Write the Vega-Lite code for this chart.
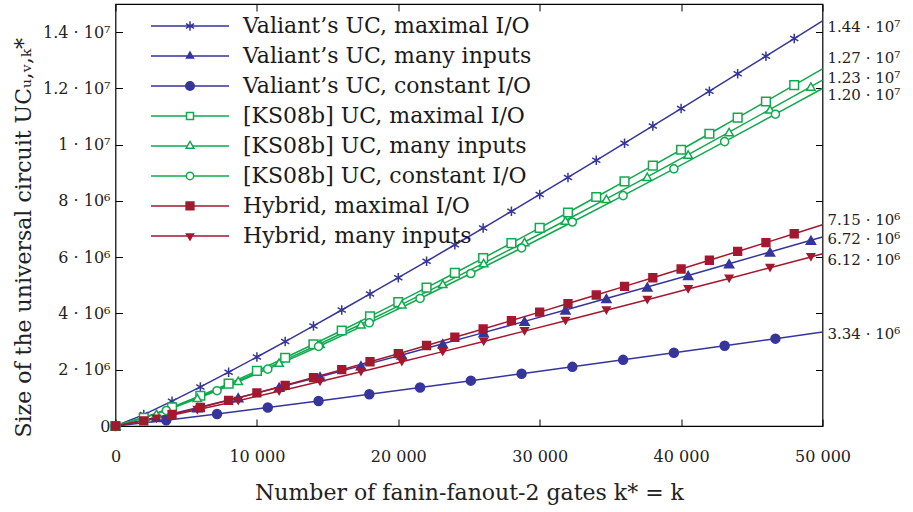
{
  "$schema": "https://vega.github.io/schema/vega-lite/v6.json",
  "width": 707,
  "height": 422,
  "autosize": {"type": "none"},
  "padding": {"left": 115.5, "top": 4, "right": 90.5, "bottom": 86},
  "config": {
    "view": {"stroke": "black", "strokeWidth": 1.2},
    "font": "DejaVu Serif",
    "axis": {"grid": false, "domain": false, "tickColor": "black", "tickWidth": 1, "labelFont": "DejaVu Serif", "labelFontSize": 16, "labelColor": "#222", "titleFont": "DejaVu Serif", "titleFontSize": 22, "titleFontWeight": "normal", "titleColor": "#222"},
    "legend": {"orient": "none", "legendX": 34.5, "legendY": 8.4, "padding": 0, "clipHeight": 27.1, "rowPadding": 2, "labelFont": "DejaVu Serif", "labelFontSize": 22, "labelColor": "#1a1a1a", "labelOffset": 13, "labelLimit": 500, "symbolStrokeWidth": 1.5, "symbolSize": 6084, "symbolOpacity": 1}
  },
  "datasets": {
    "pts": [
      {"s": "Valiant’s UC, maximal I/O", "k": 0, "v": 0},
      {"s": "Valiant’s UC, maximal I/O", "k": 2000, "v": 404600},
      {"s": "Valiant’s UC, maximal I/O", "k": 4000, "v": 883100},
      {"s": "Valiant’s UC, maximal I/O", "k": 6000, "v": 1389400},
      {"s": "Valiant’s UC, maximal I/O", "k": 8000, "v": 1913800},
      {"s": "Valiant’s UC, maximal I/O", "k": 10000, "v": 2451600},
      {"s": "Valiant’s UC, maximal I/O", "k": 12000, "v": 3000100},
      {"s": "Valiant’s UC, maximal I/O", "k": 14000, "v": 3557600},
      {"s": "Valiant’s UC, maximal I/O", "k": 16000, "v": 4122700},
      {"s": "Valiant’s UC, maximal I/O", "k": 18000, "v": 4694500},
      {"s": "Valiant’s UC, maximal I/O", "k": 20000, "v": 5272200},
      {"s": "Valiant’s UC, maximal I/O", "k": 22000, "v": 5855200},
      {"s": "Valiant’s UC, maximal I/O", "k": 24000, "v": 6443000},
      {"s": "Valiant’s UC, maximal I/O", "k": 26000, "v": 7035400},
      {"s": "Valiant’s UC, maximal I/O", "k": 28000, "v": 7631800},
      {"s": "Valiant’s UC, maximal I/O", "k": 30000, "v": 8232000},
      {"s": "Valiant’s UC, maximal I/O", "k": 32000, "v": 8835800},
      {"s": "Valiant’s UC, maximal I/O", "k": 34000, "v": 9442900},
      {"s": "Valiant’s UC, maximal I/O", "k": 36000, "v": 10053100},
      {"s": "Valiant’s UC, maximal I/O", "k": 38000, "v": 10666300},
      {"s": "Valiant’s UC, maximal I/O", "k": 40000, "v": 11282300},
      {"s": "Valiant’s UC, maximal I/O", "k": 42000, "v": 11902000},
      {"s": "Valiant’s UC, maximal I/O", "k": 44000, "v": 12522200},
      {"s": "Valiant’s UC, maximal I/O", "k": 46000, "v": 13145800},
      {"s": "Valiant’s UC, maximal I/O", "k": 48000, "v": 13771700},
      {"s": "Valiant’s UC, maximal I/O", "k": 50000, "v": 14400000},
      {"s": "Valiant’s UC, many inputs", "k": 0, "v": 0},
      {"s": "Valiant’s UC, many inputs", "k": 2893, "v": 301300},
      {"s": "Valiant’s UC, many inputs", "k": 5786, "v": 645100},
      {"s": "Valiant’s UC, many inputs", "k": 8679, "v": 1005000},
      {"s": "Valiant’s UC, many inputs", "k": 11572, "v": 1375300},
      {"s": "Valiant’s UC, many inputs", "k": 14465, "v": 1753500},
      {"s": "Valiant’s UC, many inputs", "k": 17358, "v": 2137600},
      {"s": "Valiant’s UC, many inputs", "k": 20251, "v": 2527100},
      {"s": "Valiant’s UC, many inputs", "k": 23144, "v": 2921000},
      {"s": "Valiant’s UC, many inputs", "k": 26037, "v": 3318700},
      {"s": "Valiant’s UC, many inputs", "k": 28930, "v": 3719800},
      {"s": "Valiant’s UC, many inputs", "k": 31823, "v": 4123900},
      {"s": "Valiant’s UC, many inputs", "k": 34716, "v": 4530800},
      {"s": "Valiant’s UC, many inputs", "k": 37609, "v": 4940300},
      {"s": "Valiant’s UC, many inputs", "k": 40502, "v": 5352300},
      {"s": "Valiant’s UC, many inputs", "k": 43395, "v": 5766300},
      {"s": "Valiant’s UC, many inputs", "k": 46288, "v": 6182700},
      {"s": "Valiant’s UC, many inputs", "k": 49181, "v": 6600600},
      {"s": "Valiant’s UC, many inputs", "k": 50000, "v": 6719500},
      {"s": "Valiant’s UC, constant I/O", "k": 0, "v": 0},
      {"s": "Valiant’s UC, constant I/O", "k": 3590, "v": 203300},
      {"s": "Valiant’s UC, constant I/O", "k": 7180, "v": 425800},
      {"s": "Valiant’s UC, constant I/O", "k": 10770, "v": 655500},
      {"s": "Valiant’s UC, constant I/O", "k": 14360, "v": 889900},
      {"s": "Valiant’s UC, constant I/O", "k": 17950, "v": 1127800},
      {"s": "Valiant’s UC, constant I/O", "k": 21540, "v": 1368400},
      {"s": "Valiant’s UC, constant I/O", "k": 25130, "v": 1611600},
      {"s": "Valiant’s UC, constant I/O", "k": 28720, "v": 1856500},
      {"s": "Valiant’s UC, constant I/O", "k": 32310, "v": 2103400},
      {"s": "Valiant’s UC, constant I/O", "k": 35900, "v": 2351500},
      {"s": "Valiant’s UC, constant I/O", "k": 39490, "v": 2601200},
      {"s": "Valiant’s UC, constant I/O", "k": 43080, "v": 2851900},
      {"s": "Valiant’s UC, constant I/O", "k": 46670, "v": 3104000},
      {"s": "Valiant’s UC, constant I/O", "k": 50000, "v": 3339000},
      {"s": "[KS08b] UC, maximal I/O", "k": 0, "v": 0},
      {"s": "[KS08b] UC, maximal I/O", "k": 2000, "v": 290200},
      {"s": "[KS08b] UC, maximal I/O", "k": 4000, "v": 664600},
      {"s": "[KS08b] UC, maximal I/O", "k": 6000, "v": 1074500},
      {"s": "[KS08b] UC, maximal I/O", "k": 8000, "v": 1508200},
      {"s": "[KS08b] UC, maximal I/O", "k": 10000, "v": 1960000},
      {"s": "[KS08b] UC, maximal I/O", "k": 12000, "v": 2426500},
      {"s": "[KS08b] UC, maximal I/O", "k": 14000, "v": 2905400},
      {"s": "[KS08b] UC, maximal I/O", "k": 16000, "v": 3395000},
      {"s": "[KS08b] UC, maximal I/O", "k": 18000, "v": 3894100},
      {"s": "[KS08b] UC, maximal I/O", "k": 20000, "v": 4401800},
      {"s": "[KS08b] UC, maximal I/O", "k": 22000, "v": 4917200},
      {"s": "[KS08b] UC, maximal I/O", "k": 24000, "v": 5439600},
      {"s": "[KS08b] UC, maximal I/O", "k": 26000, "v": 5968300},
      {"s": "[KS08b] UC, maximal I/O", "k": 28000, "v": 6503300},
      {"s": "[KS08b] UC, maximal I/O", "k": 30000, "v": 7043700},
      {"s": "[KS08b] UC, maximal I/O", "k": 32000, "v": 7589400},
      {"s": "[KS08b] UC, maximal I/O", "k": 34000, "v": 8140300},
      {"s": "[KS08b] UC, maximal I/O", "k": 36000, "v": 8695400},
      {"s": "[KS08b] UC, maximal I/O", "k": 38000, "v": 9255700},
      {"s": "[KS08b] UC, maximal I/O", "k": 40000, "v": 9819600},
      {"s": "[KS08b] UC, maximal I/O", "k": 42000, "v": 10387900},
      {"s": "[KS08b] UC, maximal I/O", "k": 44000, "v": 10960000},
      {"s": "[KS08b] UC, maximal I/O", "k": 46000, "v": 11535400},
      {"s": "[KS08b] UC, maximal I/O", "k": 48000, "v": 12114700},
      {"s": "[KS08b] UC, maximal I/O", "k": 50000, "v": 12697500},
      {"s": "[KS08b] UC, many inputs", "k": 0, "v": 0},
      {"s": "[KS08b] UC, many inputs", "k": 2893, "v": 437500},
      {"s": "[KS08b] UC, many inputs", "k": 5786, "v": 996900},
      {"s": "[KS08b] UC, many inputs", "k": 8679, "v": 1607400},
      {"s": "[KS08b] UC, many inputs", "k": 11572, "v": 2252300},
      {"s": "[KS08b] UC, many inputs", "k": 14465, "v": 2923300},
      {"s": "[KS08b] UC, many inputs", "k": 17358, "v": 3615400},
      {"s": "[KS08b] UC, many inputs", "k": 20251, "v": 4325500},
      {"s": "[KS08b] UC, many inputs", "k": 23144, "v": 5050800},
      {"s": "[KS08b] UC, many inputs", "k": 26037, "v": 5789800},
      {"s": "[KS08b] UC, many inputs", "k": 28930, "v": 6540300},
      {"s": "[KS08b] UC, many inputs", "k": 31823, "v": 7303600},
      {"s": "[KS08b] UC, many inputs", "k": 34716, "v": 8076100},
      {"s": "[KS08b] UC, many inputs", "k": 37609, "v": 8857700},
      {"s": "[KS08b] UC, many inputs", "k": 40502, "v": 9648100},
      {"s": "[KS08b] UC, many inputs", "k": 43395, "v": 10446500},
      {"s": "[KS08b] UC, many inputs", "k": 46288, "v": 11252800},
      {"s": "[KS08b] UC, many inputs", "k": 49181, "v": 12066100},
      {"s": "[KS08b] UC, many inputs", "k": 50000, "v": 12297500},
      {"s": "[KS08b] UC, constant I/O", "k": 0, "v": 0},
      {"s": "[KS08b] UC, constant I/O", "k": 3590, "v": 552200},
      {"s": "[KS08b] UC, constant I/O", "k": 7180, "v": 1254700},
      {"s": "[KS08b] UC, constant I/O", "k": 10770, "v": 2020100},
      {"s": "[KS08b] UC, constant I/O", "k": 14360, "v": 2827800},
      {"s": "[KS08b] UC, constant I/O", "k": 17950, "v": 3667700},
      {"s": "[KS08b] UC, constant I/O", "k": 21540, "v": 4533400},
      {"s": "[KS08b] UC, constant I/O", "k": 25130, "v": 5421200},
      {"s": "[KS08b] UC, constant I/O", "k": 28720, "v": 6328100},
      {"s": "[KS08b] UC, constant I/O", "k": 32310, "v": 7251600},
      {"s": "[KS08b] UC, constant I/O", "k": 35900, "v": 8189900},
      {"s": "[KS08b] UC, constant I/O", "k": 39490, "v": 9142100},
      {"s": "[KS08b] UC, constant I/O", "k": 43080, "v": 10106800},
      {"s": "[KS08b] UC, constant I/O", "k": 46670, "v": 11082600},
      {"s": "[KS08b] UC, constant I/O", "k": 50000, "v": 11997600},
      {"s": "Hybrid, maximal I/O", "k": 0, "v": 0},
      {"s": "Hybrid, maximal I/O", "k": 2000, "v": 184400},
      {"s": "Hybrid, maximal I/O", "k": 4000, "v": 412500},
      {"s": "Hybrid, maximal I/O", "k": 6000, "v": 657200},
      {"s": "Hybrid, maximal I/O", "k": 8000, "v": 912600},
      {"s": "Hybrid, maximal I/O", "k": 10000, "v": 1176000},
      {"s": "Hybrid, maximal I/O", "k": 12000, "v": 1445800},
      {"s": "Hybrid, maximal I/O", "k": 14000, "v": 1720900},
      {"s": "Hybrid, maximal I/O", "k": 16000, "v": 2000500},
      {"s": "Hybrid, maximal I/O", "k": 18000, "v": 2284000},
      {"s": "Hybrid, maximal I/O", "k": 20000, "v": 2571000},
      {"s": "Hybrid, maximal I/O", "k": 22000, "v": 2861300},
      {"s": "Hybrid, maximal I/O", "k": 24000, "v": 3154300},
      {"s": "Hybrid, maximal I/O", "k": 26000, "v": 3449900},
      {"s": "Hybrid, maximal I/O", "k": 28000, "v": 3748400},
      {"s": "Hybrid, maximal I/O", "k": 30000, "v": 4048800},
      {"s": "Hybrid, maximal I/O", "k": 32000, "v": 4351400},
      {"s": "Hybrid, maximal I/O", "k": 34000, "v": 4655600},
      {"s": "Hybrid, maximal I/O", "k": 36000, "v": 4962200},
      {"s": "Hybrid, maximal I/O", "k": 38000, "v": 5270200},
      {"s": "Hybrid, maximal I/O", "k": 40000, "v": 5580000},
      {"s": "Hybrid, maximal I/O", "k": 42000, "v": 5891300},
      {"s": "Hybrid, maximal I/O", "k": 44000, "v": 6204400},
      {"s": "Hybrid, maximal I/O", "k": 46000, "v": 6518700},
      {"s": "Hybrid, maximal I/O", "k": 48000, "v": 6834200},
      {"s": "Hybrid, maximal I/O", "k": 50000, "v": 7151500},
      {"s": "Hybrid, many inputs", "k": 0, "v": 0},
      {"s": "Hybrid, many inputs", "k": 2893, "v": 266500},
      {"s": "Hybrid, many inputs", "k": 5786, "v": 575700},
      {"s": "Hybrid, many inputs", "k": 8679, "v": 900800},
      {"s": "Hybrid, many inputs", "k": 11572, "v": 1236500},
      {"s": "Hybrid, many inputs", "k": 14465, "v": 1579900},
      {"s": "Hybrid, many inputs", "k": 17358, "v": 1929300},
      {"s": "Hybrid, many inputs", "k": 20251, "v": 2284100},
      {"s": "Hybrid, many inputs", "k": 23144, "v": 2643300},
      {"s": "Hybrid, many inputs", "k": 26037, "v": 3006200},
      {"s": "Hybrid, many inputs", "k": 28930, "v": 3372700},
      {"s": "Hybrid, many inputs", "k": 31823, "v": 3742100},
      {"s": "Hybrid, many inputs", "k": 34716, "v": 4114200},
      {"s": "Hybrid, many inputs", "k": 37609, "v": 4489000},
      {"s": "Hybrid, many inputs", "k": 40502, "v": 4866300},
      {"s": "Hybrid, many inputs", "k": 43395, "v": 5245600},
      {"s": "Hybrid, many inputs", "k": 46288, "v": 5627200},
      {"s": "Hybrid, many inputs", "k": 49181, "v": 6010400},
      {"s": "Hybrid, many inputs", "k": 50000, "v": 6119500}
    ],
    "ends": [
      {"s": "Valiant’s UC, maximal I/O", "k": 50000, "v": 14400000, "label": "1.44 · 10⁷"},
      {"s": "[KS08b] UC, maximal I/O", "k": 50000, "v": 12700000, "label": "1.27 · 10⁷"},
      {"s": "[KS08b] UC, many inputs", "k": 50000, "v": 12300000, "label": "1.23 · 10⁷"},
      {"s": "[KS08b] UC, constant I/O", "k": 50000, "v": 12000000, "label": "1.20 · 10⁷"},
      {"s": "Hybrid, maximal I/O", "k": 50000, "v": 7150000, "label": "7.15 · 10⁶"},
      {"s": "Valiant’s UC, many inputs", "k": 50000, "v": 6720000, "label": "6.72 · 10⁶"},
      {"s": "Hybrid, many inputs", "k": 50000, "v": 6120000, "label": "6.12 · 10⁶"},
      {"s": "Valiant’s UC, constant I/O", "k": 50000, "v": 3340000, "label": "3.34 · 10⁶"}
    ]
  },
  "layer": [
    {
      "data": {"name": "pts"},
      "mark": {"type": "line", "strokeWidth": 1.5},
      "encoding": {
        "x": {"field": "k", "type": "quantitative", "scale": {"domain": [0, 50000], "nice": false},
          "axis": {"orient": "bottom", "values": [0, 10000, 20000, 30000, 40000, 50000], "labelExpr": "datum.value == 0 ? '0' : (datum.value / 1000) + ' 000'", "tickSize": -7, "labelPadding": 42, "labelBaseline": "alphabetic", "labelFlush": false, "title": "Number of fanin-fanout-2 gates k* = k", "titleX": 353.5, "titleY": 73, "titleAlign": "center", "titleBaseline": "alphabetic"}},
        "y": {"field": "v", "type": "quantitative", "scale": {"domain": [0, 15000000], "nice": false},
          "axis": {"orient": "left", "values": [0, 2000000, 4000000, 6000000, 8000000, 10000000, 12000000, 14000000], "labelExpr": "datum.value == 0 ? '0' : datum.value < 10000000 ? (datum.value / 1000000) + ' · 10⁶' : (datum.value / 10000000) + ' · 10⁷'", "tickSize": -7, "labelPadding": 12.5, "labelFlush": false, "title": "Size of the universal circuit UCᵤ,ᵥ,ₖ*", "titleAngle": -90, "titleX": -85, "titleY": 433, "titleAlign": "left", "titleBaseline": "alphabetic"}},
        "stroke": {"field": "s", "type": "nominal", "legend": null,
          "scale": {"domain": ["Valiant’s UC, maximal I/O", "Valiant’s UC, many inputs", "Valiant’s UC, constant I/O", "[KS08b] UC, maximal I/O", "[KS08b] UC, many inputs", "[KS08b] UC, constant I/O", "Hybrid, maximal I/O", "Hybrid, many inputs"],
            "range": ["#35359c", "#35359c", "#35359c", "#10aa4e", "#10aa4e", "#10aa4e", "#a3182f", "#a3182f"]}}
      }
    },
    {
      "data": {"name": "pts"},
      "transform": [{"filter": "datum.k < 50000"}],
      "mark": {"type": "point", "filled": true, "opacity": 1, "strokeWidth": 1.5},
      "encoding": {
        "x": {"field": "k", "type": "quantitative",
          "axis": {"orient": "top", "values": [0, 10000, 20000, 30000, 40000, 50000], "labels": false, "tickSize": -7, "title": null}},
        "y": {"field": "v", "type": "quantitative",
          "axis": {"orient": "right", "values": [0, 2000000, 4000000, 6000000, 8000000, 10000000, 12000000, 14000000], "labels": false, "tickSize": -7, "title": null}},
        "stroke": {"field": "s", "type": "nominal", "legend": null,
          "scale": {"domain": ["Valiant’s UC, maximal I/O", "Valiant’s UC, many inputs", "Valiant’s UC, constant I/O", "[KS08b] UC, maximal I/O", "[KS08b] UC, many inputs", "[KS08b] UC, constant I/O", "Hybrid, maximal I/O", "Hybrid, many inputs"],
            "range": ["#35359c", "#35359c", "#35359c", "#10aa4e", "#10aa4e", "#10aa4e", "#a3182f", "#a3182f"]}},
        "fill": {"field": "s", "type": "nominal", "legend": null,
          "scale": {"domain": ["Valiant’s UC, maximal I/O", "Valiant’s UC, many inputs", "Valiant’s UC, constant I/O", "[KS08b] UC, maximal I/O", "[KS08b] UC, many inputs", "[KS08b] UC, constant I/O", "Hybrid, maximal I/O", "Hybrid, many inputs"],
            "range": ["#35359c", "#35359c", "#35359c", "white", "white", "white", "#a3182f", "#a3182f"]}},
        "shape": {"field": "s", "type": "nominal", "legend": null,
          "scale": {"domain": ["Valiant’s UC, maximal I/O", "Valiant’s UC, many inputs", "Valiant’s UC, constant I/O", "[KS08b] UC, maximal I/O", "[KS08b] UC, many inputs", "[KS08b] UC, constant I/O", "Hybrid, maximal I/O", "Hybrid, many inputs"],
            "range": ["M0,-1L0,1M-0.866,-0.5L0.866,0.5M-0.866,0.5L0.866,-0.5", "triangle-up", "circle", "square", "triangle-up", "circle", "square", "triangle-down"]}},
        "size": {"field": "s", "type": "nominal", "legend": null,
          "scale": {"domain": ["Valiant’s UC, maximal I/O", "Valiant’s UC, many inputs", "Valiant’s UC, constant I/O", "[KS08b] UC, maximal I/O", "[KS08b] UC, many inputs", "[KS08b] UC, constant I/O", "Hybrid, maximal I/O", "Hybrid, many inputs"],
            "range": [90, 56, 72, 52, 76, 56, 60, 56]}}
      }
    },
    {
      "data": {"name": "pts"},
      "transform": [{"filter": "datum.k < 0"}],
      "mark": {"type": "point", "filled": true, "opacity": 1, "strokeWidth": 1.5, "size": 6084},
      "encoding": {
        "x": {"field": "k", "type": "quantitative", "axis": null},
        "y": {"field": "v", "type": "quantitative", "axis": null},
        "stroke": {"field": "s", "type": "nominal", "legend": {"title": null},
          "scale": {"domain": ["Valiant’s UC, maximal I/O", "Valiant’s UC, many inputs", "Valiant’s UC, constant I/O", "[KS08b] UC, maximal I/O", "[KS08b] UC, many inputs", "[KS08b] UC, constant I/O", "Hybrid, maximal I/O", "Hybrid, many inputs"],
            "range": ["#35359c", "#35359c", "#35359c", "#10aa4e", "#10aa4e", "#10aa4e", "#a3182f", "#a3182f"]}},
        "fill": {"field": "s", "type": "nominal", "legend": {"title": null},
          "scale": {"domain": ["Valiant’s UC, maximal I/O", "Valiant’s UC, many inputs", "Valiant’s UC, constant I/O", "[KS08b] UC, maximal I/O", "[KS08b] UC, many inputs", "[KS08b] UC, constant I/O", "Hybrid, maximal I/O", "Hybrid, many inputs"],
            "range": ["#35359c", "#35359c", "#35359c", "white", "white", "white", "#a3182f", "#a3182f"]}},
        "shape": {"field": "s", "type": "nominal", "legend": {"title": null},
          "scale": {"domain": ["Valiant’s UC, maximal I/O", "Valiant’s UC, many inputs", "Valiant’s UC, constant I/O", "[KS08b] UC, maximal I/O", "[KS08b] UC, many inputs", "[KS08b] UC, constant I/O", "Hybrid, maximal I/O", "Hybrid, many inputs"],
            "range": [
              "M-1,0L1,0M0,-0.12L0,0.12M-0.104,-0.06L0.104,0.06M-0.104,0.06L0.104,-0.06",
              "M-1,0L1,0M0,-0.1L0.087,0.05L-0.087,0.05Z",
              "M-1,0L1,0M0.11,0A0.11,0.11,0,1,1,-0.11,0A0.11,0.11,0,1,1,0.11,0Z",
              "M-1,0L-0.09,0M0.09,0L1,0M-0.09,-0.09L0.09,-0.09L0.09,0.09L-0.09,0.09Z",
              "M-1,0L-0.066,0M0.066,0L1,0M0,-0.115L0.1,0.058L-0.1,0.058Z",
              "M-1,0L-0.095,0M0.095,0L1,0M0.095,0A0.095,0.095,0,1,1,-0.095,0A0.095,0.095,0,1,1,0.095,0Z",
              "M-1,0L1,0M-0.1,-0.1L0.1,-0.1L0.1,0.1L-0.1,0.1Z",
              "M-1,0L1,0M0,0.103L0.089,-0.052L-0.089,-0.052Z"
            ]}}
      }
    },
    {
      "data": {"name": "ends"},
      "transform": [{"filter": {"field": "label", "oneOf": ["1.44 · 10⁷", "6.12 · 10⁶"]}}],
      "mark": {"type": "text", "align": "left", "baseline": "middle", "dx": 5, "dy": 6, "font": "DejaVu Serif", "fontSize": 15, "color": "#222"},
      "encoding": {
        "x": {"field": "k", "type": "quantitative", "axis": null},
        "y": {"field": "v", "type": "quantitative", "axis": null},
        "text": {"field": "label"}
      }
    },
    {
      "data": {"name": "ends"},
      "transform": [{"filter": {"field": "label", "oneOf": ["1.20 · 10⁷"]}}],
      "mark": {"type": "text", "align": "left", "baseline": "middle", "dx": 5, "dy": 7, "font": "DejaVu Serif", "fontSize": 15, "color": "#222"},
      "encoding": {
        "x": {"field": "k", "type": "quantitative", "axis": null},
        "y": {"field": "v", "type": "quantitative", "axis": null},
        "text": {"field": "label"}
      }
    },
    {
      "data": {"name": "ends"},
      "transform": [{"filter": {"field": "label", "oneOf": ["1.27 · 10⁷"]}}],
      "mark": {"type": "text", "align": "left", "baseline": "middle", "dx": 5, "dy": -11, "font": "DejaVu Serif", "fontSize": 15, "color": "#222"},
      "encoding": {
        "x": {"field": "k", "type": "quantitative", "axis": null},
        "y": {"field": "v", "type": "quantitative", "axis": null},
        "text": {"field": "label"}
      }
    },
    {
      "data": {"name": "ends"},
      "transform": [{"filter": {"field": "label", "oneOf": ["1.23 · 10⁷"]}}],
      "mark": {"type": "text", "align": "left", "baseline": "middle", "dx": 5, "dy": -2, "font": "DejaVu Serif", "fontSize": 15, "color": "#222"},
      "encoding": {
        "x": {"field": "k", "type": "quantitative", "axis": null},
        "y": {"field": "v", "type": "quantitative", "axis": null},
        "text": {"field": "label"}
      }
    },
    {
      "data": {"name": "ends"},
      "transform": [{"filter": {"field": "label", "oneOf": ["7.15 · 10⁶"]}}],
      "mark": {"type": "text", "align": "left", "baseline": "middle", "dx": 5, "dy": -5, "font": "DejaVu Serif", "fontSize": 15, "color": "#222"},
      "encoding": {
        "x": {"field": "k", "type": "quantitative", "axis": null},
        "y": {"field": "v", "type": "quantitative", "axis": null},
        "text": {"field": "label"}
      }
    },
    {
      "data": {"name": "ends"},
      "transform": [{"filter": {"field": "label", "oneOf": ["6.72 · 10⁶", "3.34 · 10⁶"]}}],
      "mark": {"type": "text", "align": "left", "baseline": "middle", "dx": 5, "dy": 2, "font": "DejaVu Serif", "fontSize": 15, "color": "#222"},
      "encoding": {
        "x": {"field": "k", "type": "quantitative", "axis": null},
        "y": {"field": "v", "type": "quantitative", "axis": null},
        "text": {"field": "label"}
      }
    }
  ],
  "resolve": {
    "scale": {"stroke": "independent", "fill": "independent", "shape": "independent", "size": "independent"},
    "axis": {"x": "independent", "y": "independent"},
    "legend": {"stroke": "independent", "fill": "independent", "shape": "independent", "size": "independent"}
  }
}
